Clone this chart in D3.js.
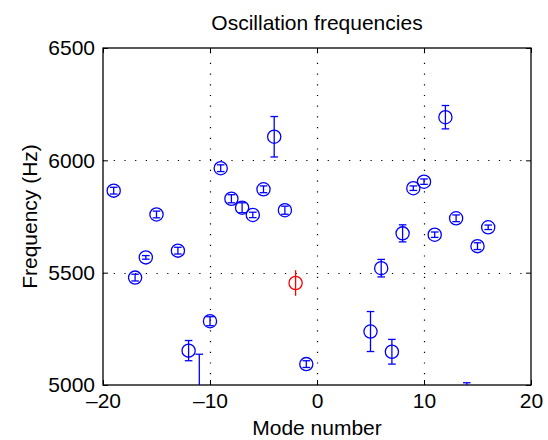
<!DOCTYPE html>
<html>
<head>
<meta charset="utf-8">
<script src="https://cdn.jsdelivr.net/npm/d3@7"></script>
<style>
  html, body { margin: 0; padding: 0; background: #fff; }
  svg { display: block; font-family: "Liberation Sans", Arial, Helvetica, sans-serif; }
</style>
</head>
<body>
<svg id="chart" width="548" height="440"></svg>
<script>
// Mode numbers and measured oscillation frequencies (Hz) with their uncertainties
const modes = [-19, -17, -16, -15, -13, -12, -11, -10, -9, -8, -7, -6, -5, -4, -3, -1,
               5, 6, 7, 8, 9, 10, 11, 12, 13, 14, 15, 16];
const freqs = [5865, 5478, 5568, 5759, 5598, 5153, 4960, 5284, 5965, 5829, 5789, 5757, 5871, 6105, 5778, 5093,
               5238, 5520, 5148, 5675, 5876, 5905, 5669, 6192, 5742, 4955, 5618, 5702];
const errs  = [15, 15, 8, 15, 15, 45, 177, 20, 15, 18, 22, 12, 15, 90, 18, 15,
               89, 39, 55, 38, 10, 12, 12, 52, 15, 55, 15, 10];

// Highlighted mode drawn in red
const hiMode = [-2];
const hiFreq = [5454];
const hiErr  = [57];

const xTicks = [-20, -10, 0, 10, 20];
const yTicks = [5000, 5500, 6000, 6500];
const gridX = [-10, 0, 10];
const gridY = [5500, 6000];

const margin = { left: 103, top: 48, right: 531, bottom: 385 };
const svg = d3.select("#chart");

const x = d3.scaleLinear().domain([-20, 20]).range([margin.left, margin.right]);
const y = d3.scaleLinear().domain([5000, 6500]).range([margin.bottom, margin.top]);

const W = margin.right - margin.left, H = margin.bottom - margin.top;

svg.append("defs").append("clipPath").attr("id", "plotclip")
  .append("rect").attr("x", margin.left).attr("y", margin.top).attr("width", W).attr("height", H);

// Dotted grid
const grid = svg.append("g").attr("stroke", "#000").attr("stroke-width", 1.2)
  .attr("stroke-dasharray", "1.2 9.5");
grid.selectAll("line.gx").data(gridX).join("line").attr("class", "gx")
  .attr("x1", d => Math.round(x(d)) + 0.5).attr("x2", d => Math.round(x(d)) + 0.5)
  .attr("y1", margin.bottom).attr("y2", margin.top);
grid.selectAll("line.gy").data(gridY).join("line").attr("class", "gy")
  .attr("y1", d => Math.round(y(d)) + 0.5).attr("y2", d => Math.round(y(d)) + 0.5)
  .attr("x1", margin.left).attr("x2", margin.right);

// Axes with inward ticks on all four sides
const tickLen = 5;
const fs = 21;
const axB = svg.append("g").attr("transform", `translate(0,${margin.bottom})`)
  .call(d3.axisBottom(x).tickValues(xTicks).tickSize(-tickLen).tickPadding(8)
    .tickFormat(d => d < 0 ? "\u2013" + Math.abs(d) : String(d)));
const axT = svg.append("g").attr("transform", `translate(0,${margin.top})`)
  .call(d3.axisTop(x).tickValues(xTicks).tickSize(-tickLen).tickFormat(""));
const axL = svg.append("g").attr("transform", `translate(${margin.left},0)`)
  .call(d3.axisLeft(y).tickValues(yTicks).tickSize(-tickLen).tickPadding(8)
    .tickFormat(d3.format("d")));
const axR = svg.append("g").attr("transform", `translate(${margin.right},0)`)
  .call(d3.axisRight(y).tickValues(yTicks).tickSize(-tickLen).tickFormat(""));

[axB, axT, axL, axR].forEach(a => {
  a.select(".domain").remove();
  a.selectAll(".tick line").attr("stroke", "#000");
  a.selectAll("text").attr("fill", "#000").style("font-size", fs + "px");
});

// Box
svg.append("rect").attr("x", margin.left).attr("y", margin.top)
  .attr("width", W).attr("height", H)
  .attr("fill", "none").attr("stroke", "#000").attr("stroke-width", 1.3);

// Error bars and circle markers
const plot = svg.append("g").attr("clip-path", "url(#plotclip)");
const capHalf = 3.8, r = 6.6;

const pts = modes.map((m, i) => ({ m, f: freqs[i], e: errs[i] }));
const g = plot.append("g").attr("stroke", "#0000ff").attr("fill", "none").attr("stroke-width", 1.3);
g.selectAll("line.bar").data(pts).join("line").attr("class", "bar")
  .attr("x1", d => x(d.m)).attr("x2", d => x(d.m))
  .attr("y1", d => y(d.f - d.e)).attr("y2", d => y(d.f + d.e));
g.selectAll("line.capHi").data(pts).join("line").attr("class", "capHi")
  .attr("x1", d => x(d.m) - capHalf).attr("x2", d => x(d.m) + capHalf)
  .attr("y1", d => y(d.f + d.e)).attr("y2", d => y(d.f + d.e));
g.selectAll("line.capLo").data(pts).join("line").attr("class", "capLo")
  .attr("x1", d => x(d.m) - capHalf).attr("x2", d => x(d.m) + capHalf)
  .attr("y1", d => y(d.f - d.e)).attr("y2", d => y(d.f - d.e));
g.selectAll("circle").data(pts).join("circle")
  .attr("cx", d => x(d.m)).attr("cy", d => y(d.f)).attr("r", r);

const hiPts = hiMode.map((m, i) => ({ m, f: hiFreq[i], e: hiErr[i] }));
const gr = plot.append("g").attr("stroke", "#ff0000").attr("fill", "none").attr("stroke-width", 1.3);
gr.selectAll("line").data(hiPts).join("line")
  .attr("x1", d => x(d.m)).attr("x2", d => x(d.m))
  .attr("y1", d => y(d.f - d.e)).attr("y2", d => y(d.f + d.e));
gr.selectAll("circle").data(hiPts).join("circle")
  .attr("cx", d => x(d.m)).attr("cy", d => y(d.f)).attr("r", r);

// Titles
svg.append("text").attr("x", (margin.left + margin.right) / 2).attr("y", 30)
  .attr("text-anchor", "middle").style("font-size", "21px").text("Oscillation frequencies");
svg.append("text").attr("x", (margin.left + margin.right) / 2).attr("y", 435)
  .attr("text-anchor", "middle").style("font-size", fs + "px").text("Mode number");
svg.append("text").attr("transform", `translate(37,${(margin.top + margin.bottom) / 2}) rotate(-90)`)
  .attr("text-anchor", "middle").style("font-size", fs + "px").text("Frequency (Hz)");
</script>
</body>
</html>
